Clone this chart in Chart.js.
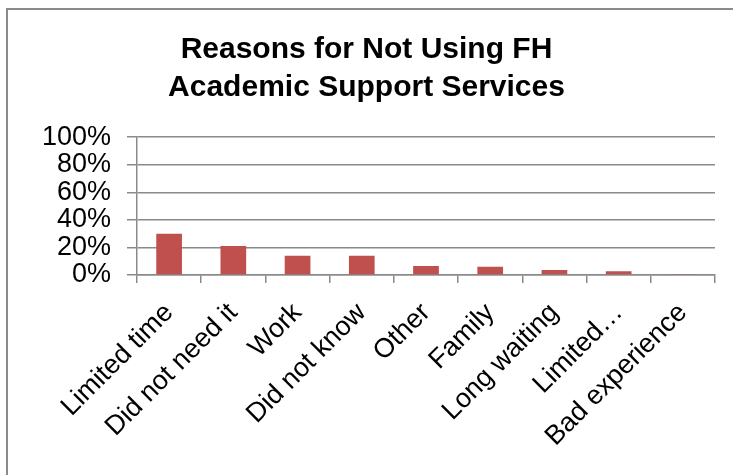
<!DOCTYPE html>
<html>
<head>
<meta charset="utf-8">
<script src="https://cdn.jsdelivr.net/npm/chart.js@4.4.1/dist/chart.umd.min.js"></script>
<style>
  html, body { margin: 0; padding: 0; background: #ffffff; }
  #wrap { width: 733px; height: 475px; position: relative; }
</style>
</head>
<body>
<div id="wrap"><canvas id="chartReasons"></canvas></div>
<script>
const categories = ['Limited time', 'Did not need it', 'Work', 'Did not know', 'Other', 'Family', 'Long waiting', 'Limited…', 'Bad experience'];
const percentValues = [30, 21, 14, 14, 6.6, 5.9, 3.7, 2.7, 0.7];
const tickValues = [0, 20, 40, 60, 80, 100];
const tickLabels = ['0%', '20%', '40%', '60%', '80%', '100%'];
const titleLines = ['Reasons for Not Using FH', 'Academic Support Services'];

const GRAY = '#8a8a8a';

// outer frame of the chart (right and bottom edges fall outside the picture)
const framePlugin = {
   id: 'frame',
   beforeDraw: function (chart) {
      const c = chart.ctx;
      c.save();
      c.fillStyle = '#ffffff';
      c.fillRect(0, 0, chart.width, chart.height);
      c.strokeStyle = GRAY;
      c.lineWidth = 2;
      c.strokeRect(7, 9, chart.width + 20, chart.height + 20);
      c.restore();
   }
};

Chart.defaults.font.family = "'Liberation Sans', Arial, sans-serif";
Chart.defaults.color = '#000000';

const ctx = document.getElementById('chartReasons').getContext('2d');
const chartReasons = new Chart(ctx, {
   type: 'bar',
   data: {
      labels: categories,
      datasets: [{
         data: percentValues,
         backgroundColor: '#C0504D',
         borderWidth: 0,
         categoryPercentage: 1,
         barPercentage: 0.4,
      }]
   },
   options: {
      responsive: true,
      maintainAspectRatio: false,
      animation: false,
      layout: {
         padding: { left: 18, right: 18, top: 0, bottom: 0 }
      },
      scales: {
         y: {
            min: 0,
            max: 100,
            afterBuildTicks: scale => {
               scale.ticks = tickValues.map(v => ({ value: v }));
            },
            afterFit: scale => { scale.width = 119; },
            ticks: {
               autoSkip: false,
               padding: 16,
               font: { size: 27 },
               callback: value => tickLabels[tickValues.indexOf(value)],
            },
            grid: {
               color: GRAY,
               lineWidth: 1.5,
               tickLength: 10,
            },
            border: { color: GRAY, width: 1.5 },
         },
         x: {
            afterFit: scale => { scale.height = 200; },
            ticks: {
               autoSkip: false,
               minRotation: 45,
               maxRotation: 45,
               padding: 14,
               font: { size: 27 },
            },
            grid: {
               drawOnChartArea: false,
               color: GRAY,
               lineWidth: 1.5,
               tickLength: 8,
            },
            border: { color: GRAY, width: 1.5 },
         }
      },
      plugins: {
         legend: { display: false },
         tooltip: { enabled: false },
         title: {
            display: true,
            text: titleLines,
            color: '#000000',
            padding: { top: 31, bottom: 30 },
            font: {
               size: 30,
               weight: 'bold',
               lineHeight: 1.27,
            }
         }
      }
   },
   plugins: [framePlugin]
});
</script>
</body>
</html>
